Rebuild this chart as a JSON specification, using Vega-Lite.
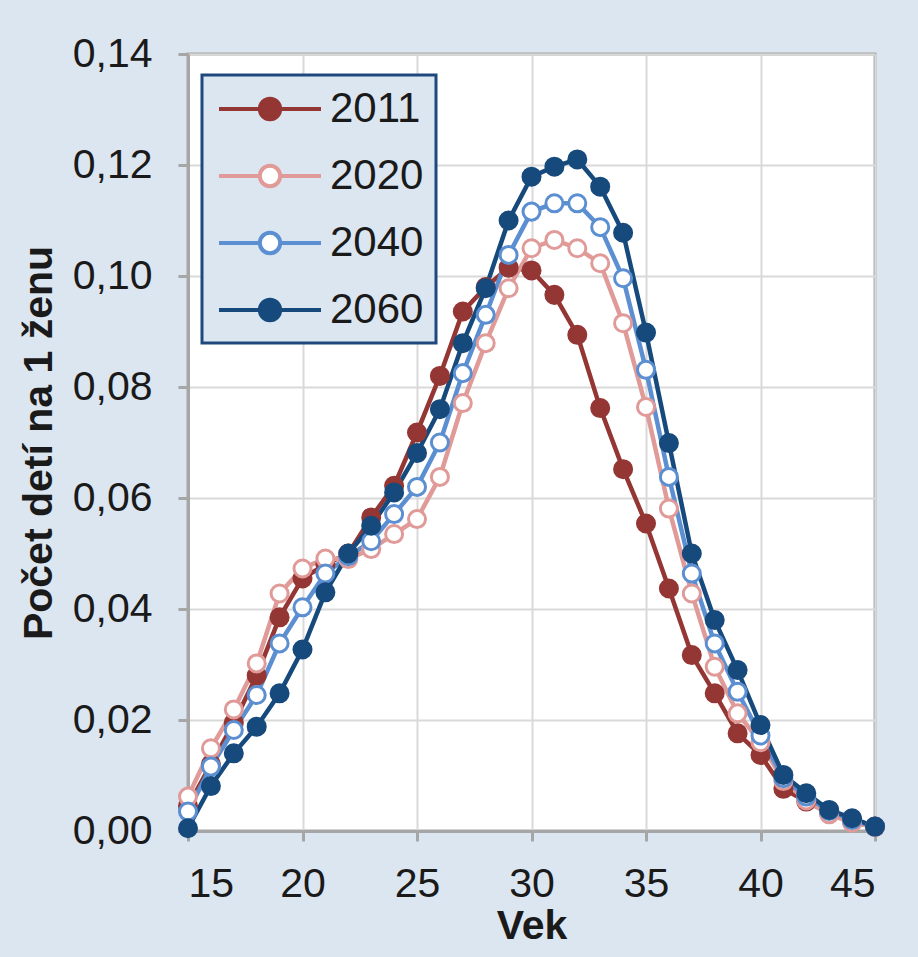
{
  "$schema": "https://vega.github.io/schema/vega-lite/v6.json",
  "width": 687,
  "height": 777,
  "autosize": {"type": "none"},
  "padding": {"left": 188, "top": 54, "right": 43, "bottom": 126},
  "background": "#dce6f1",
  "config": {
    "locale": {"number": {"decimal": ",", "thousands": " ", "grouping": [3], "currency": ["", " €"]}},
    "font": "Liberation Sans",
    "view": {"fill": "#ffffff", "stroke": "#a6a6a6", "strokeWidth": 3},
    "axis": {
      "labelFont": "Liberation Sans",
      "labelFontSize": 41,
      "labelColor": "#1a1a1a",
      "titleFont": "Liberation Sans",
      "titleFontSize": 41,
      "titleFontWeight": "bold",
      "titleColor": "#1a1a1a",
      "domainColor": "#a6a6a6",
      "domainWidth": 3,
      "tickColor": "#a6a6a6",
      "tickWidth": 3,
      "tickSize": 10,
      "gridColor": "#d9d9d9",
      "gridWidth": 2
    },
    "legend": {
      "orient": "none",
      "legendX": 14,
      "legendY": 21,
      "fillColor": "#dce6f1",
      "strokeColor": "#1f497d",
      "strokeWidth": 3,
      "padding": 12,
      "labelFont": "Liberation Sans",
      "labelFontSize": 42,
      "labelColor": "#1a1a1a",
      "labelOffset": 38,
      "symbolOffset": 34,
      "rowPadding": 24,
      "symbolSize": 1600,
      "symbolStrokeWidth": 4
    }
  },
  "data": {
    "values": [
      {"rok": "2011", "vek": 15, "hodnota": 0.0045}, {"rok": "2011", "vek": 16, "hodnota": 0.0120}, {"rok": "2011", "vek": 17, "hodnota": 0.0195}, {"rok": "2011", "vek": 18, "hodnota": 0.0280}, {"rok": "2011", "vek": 19, "hodnota": 0.0385}, {"rok": "2011", "vek": 20, "hodnota": 0.0455}, {"rok": "2011", "vek": 21, "hodnota": 0.0480}, {"rok": "2011", "vek": 22, "hodnota": 0.0500}, {"rok": "2011", "vek": 23, "hodnota": 0.0565}, {"rok": "2011", "vek": 24, "hodnota": 0.0622}, {"rok": "2011", "vek": 25, "hodnota": 0.0718}, {"rok": "2011", "vek": 26, "hodnota": 0.0820}, {"rok": "2011", "vek": 27, "hodnota": 0.0936}, {"rok": "2011", "vek": 28, "hodnota": 0.0980}, {"rok": "2011", "vek": 29, "hodnota": 0.1015}, {"rok": "2011", "vek": 30, "hodnota": 0.1010}, {"rok": "2011", "vek": 31, "hodnota": 0.0966}, {"rok": "2011", "vek": 32, "hodnota": 0.0894}, {"rok": "2011", "vek": 33, "hodnota": 0.0762}, {"rok": "2011", "vek": 34, "hodnota": 0.0652}, {"rok": "2011", "vek": 35, "hodnota": 0.0554}, {"rok": "2011", "vek": 36, "hodnota": 0.0437}, {"rok": "2011", "vek": 37, "hodnota": 0.0317}, {"rok": "2011", "vek": 38, "hodnota": 0.0248}, {"rok": "2011", "vek": 39, "hodnota": 0.0176}, {"rok": "2011", "vek": 40, "hodnota": 0.0137}, {"rok": "2011", "vek": 41, "hodnota": 0.0076}, {"rok": "2011", "vek": 42, "hodnota": 0.0053}, {"rok": "2011", "vek": 43, "hodnota": 0.0032}, {"rok": "2011", "vek": 44, "hodnota": 0.0017}, {"rok": "2011", "vek": 45, "hodnota": 0.0008},
      {"rok": "2020", "vek": 15, "hodnota": 0.0062}, {"rok": "2020", "vek": 16, "hodnota": 0.0149}, {"rok": "2020", "vek": 17, "hodnota": 0.0219}, {"rok": "2020", "vek": 18, "hodnota": 0.0302}, {"rok": "2020", "vek": 19, "hodnota": 0.0428}, {"rok": "2020", "vek": 20, "hodnota": 0.0473}, {"rok": "2020", "vek": 21, "hodnota": 0.0491}, {"rok": "2020", "vek": 22, "hodnota": 0.0490}, {"rok": "2020", "vek": 23, "hodnota": 0.0508}, {"rok": "2020", "vek": 24, "hodnota": 0.0535}, {"rok": "2020", "vek": 25, "hodnota": 0.0562}, {"rok": "2020", "vek": 26, "hodnota": 0.0638}, {"rok": "2020", "vek": 27, "hodnota": 0.0771}, {"rok": "2020", "vek": 28, "hodnota": 0.0879}, {"rok": "2020", "vek": 29, "hodnota": 0.0978}, {"rok": "2020", "vek": 30, "hodnota": 0.1050}, {"rok": "2020", "vek": 31, "hodnota": 0.1065}, {"rok": "2020", "vek": 32, "hodnota": 0.1050}, {"rok": "2020", "vek": 33, "hodnota": 0.1023}, {"rok": "2020", "vek": 34, "hodnota": 0.0915}, {"rok": "2020", "vek": 35, "hodnota": 0.0764}, {"rok": "2020", "vek": 36, "hodnota": 0.0581}, {"rok": "2020", "vek": 37, "hodnota": 0.0428}, {"rok": "2020", "vek": 38, "hodnota": 0.0296}, {"rok": "2020", "vek": 39, "hodnota": 0.0212}, {"rok": "2020", "vek": 40, "hodnota": 0.0160}, {"rok": "2020", "vek": 41, "hodnota": 0.0090}, {"rok": "2020", "vek": 42, "hodnota": 0.0055}, {"rok": "2020", "vek": 43, "hodnota": 0.0030}, {"rok": "2020", "vek": 44, "hodnota": 0.0015}, {"rok": "2020", "vek": 45, "hodnota": 0.0007},
      {"rok": "2040", "vek": 15, "hodnota": 0.0035}, {"rok": "2040", "vek": 16, "hodnota": 0.0116}, {"rok": "2040", "vek": 17, "hodnota": 0.0182}, {"rok": "2040", "vek": 18, "hodnota": 0.0245}, {"rok": "2040", "vek": 19, "hodnota": 0.0338}, {"rok": "2040", "vek": 20, "hodnota": 0.0403}, {"rok": "2040", "vek": 21, "hodnota": 0.0464}, {"rok": "2040", "vek": 22, "hodnota": 0.0495}, {"rok": "2040", "vek": 23, "hodnota": 0.0522}, {"rok": "2040", "vek": 24, "hodnota": 0.0571}, {"rok": "2040", "vek": 25, "hodnota": 0.0620}, {"rok": "2040", "vek": 26, "hodnota": 0.0700}, {"rok": "2040", "vek": 27, "hodnota": 0.0825}, {"rok": "2040", "vek": 28, "hodnota": 0.0930}, {"rok": "2040", "vek": 29, "hodnota": 0.1038}, {"rok": "2040", "vek": 30, "hodnota": 0.1116}, {"rok": "2040", "vek": 31, "hodnota": 0.1131}, {"rok": "2040", "vek": 32, "hodnota": 0.1131}, {"rok": "2040", "vek": 33, "hodnota": 0.1088}, {"rok": "2040", "vek": 34, "hodnota": 0.0996}, {"rok": "2040", "vek": 35, "hodnota": 0.0831}, {"rok": "2040", "vek": 36, "hodnota": 0.0638}, {"rok": "2040", "vek": 37, "hodnota": 0.0464}, {"rok": "2040", "vek": 38, "hodnota": 0.0338}, {"rok": "2040", "vek": 39, "hodnota": 0.0251}, {"rok": "2040", "vek": 40, "hodnota": 0.0172}, {"rok": "2040", "vek": 41, "hodnota": 0.0095}, {"rok": "2040", "vek": 42, "hodnota": 0.0062}, {"rok": "2040", "vek": 43, "hodnota": 0.0036}, {"rok": "2040", "vek": 44, "hodnota": 0.0020}, {"rok": "2040", "vek": 45, "hodnota": 0.0008},
      {"rok": "2060", "vek": 15, "hodnota": 0.0005}, {"rok": "2060", "vek": 16, "hodnota": 0.0081}, {"rok": "2060", "vek": 17, "hodnota": 0.0140}, {"rok": "2060", "vek": 18, "hodnota": 0.0188}, {"rok": "2060", "vek": 19, "hodnota": 0.0248}, {"rok": "2060", "vek": 20, "hodnota": 0.0327}, {"rok": "2060", "vek": 21, "hodnota": 0.0430}, {"rok": "2060", "vek": 22, "hodnota": 0.0500}, {"rok": "2060", "vek": 23, "hodnota": 0.0550}, {"rok": "2060", "vek": 24, "hodnota": 0.0610}, {"rok": "2060", "vek": 25, "hodnota": 0.0681}, {"rok": "2060", "vek": 26, "hodnota": 0.0760}, {"rok": "2060", "vek": 27, "hodnota": 0.0879}, {"rok": "2060", "vek": 28, "hodnota": 0.0978}, {"rok": "2060", "vek": 29, "hodnota": 0.1100}, {"rok": "2060", "vek": 30, "hodnota": 0.1179}, {"rok": "2060", "vek": 31, "hodnota": 0.1197}, {"rok": "2060", "vek": 32, "hodnota": 0.1210}, {"rok": "2060", "vek": 33, "hodnota": 0.1161}, {"rok": "2060", "vek": 34, "hodnota": 0.1078}, {"rok": "2060", "vek": 35, "hodnota": 0.0898}, {"rok": "2060", "vek": 36, "hodnota": 0.0699}, {"rok": "2060", "vek": 37, "hodnota": 0.0500}, {"rok": "2060", "vek": 38, "hodnota": 0.0380}, {"rok": "2060", "vek": 39, "hodnota": 0.0290}, {"rok": "2060", "vek": 40, "hodnota": 0.0191}, {"rok": "2060", "vek": 41, "hodnota": 0.0101}, {"rok": "2060", "vek": 42, "hodnota": 0.0068}, {"rok": "2060", "vek": 43, "hodnota": 0.0038}, {"rok": "2060", "vek": 44, "hodnota": 0.0023}, {"rok": "2060", "vek": 45, "hodnota": 0.0008}
    ]
  },
  "encoding": {
    "x": {
      "field": "vek", "type": "quantitative",
      "scale": {"domain": [15, 45], "nice": false, "zero": false},
      "axis": {"title": "Vek", "values": [15, 20, 25, 30, 35, 40, 45], "labelPadding": 23, "titlePadding": 2}
    },
    "y": {
      "field": "hodnota", "type": "quantitative",
      "scale": {"domain": [0, 0.14], "nice": false},
      "axis": {"title": "Počet detí na 1 ženu", "values": [0, 0.02, 0.04, 0.06, 0.08, 0.1, 0.12, 0.14], "format": ".2f", "labelPadding": 26, "titlePadding": 12}
    }
  },
  "layer": [
    {
      "mark": {"type": "line", "strokeWidth": 4.5, "interpolate": "linear"},
      "encoding": {
        "stroke": {
          "field": "rok", "type": "nominal",
          "scale": {"domain": ["2011", "2020", "2040", "2060"], "range": ["#943634", "#e09a98", "#5b8fd1", "#174a7c"]},
          "legend": {"title": null, "symbolType": "M-2.55,0H-0.51M0.51,0H2.55M0.51,0A0.51,0.51,0,1,1,-0.51,0A0.51,0.51,0,1,1,0.51,0Z"}
        }
      }
    },
    {
      "mark": {"type": "point", "shape": "circle", "size": 290, "strokeWidth": 3, "opacity": 1},
      "encoding": {
        "stroke": {
          "field": "rok", "type": "nominal",
          "scale": {"domain": ["2011", "2020", "2040", "2060"], "range": ["#943634", "#e09a98", "#5b8fd1", "#174a7c"]},
          "legend": {"title": null, "symbolType": "M-2.55,0H-0.51M0.51,0H2.55M0.51,0A0.51,0.51,0,1,1,-0.51,0A0.51,0.51,0,1,1,0.51,0Z"}
        },
        "fill": {
          "field": "rok", "type": "nominal",
          "scale": {"domain": ["2011", "2020", "2040", "2060"], "range": ["#943634", "#ffffff", "#ffffff", "#174a7c"]},
          "legend": {"title": null, "symbolType": "M-2.55,0H-0.51M0.51,0H2.55M0.51,0A0.51,0.51,0,1,1,-0.51,0A0.51,0.51,0,1,1,0.51,0Z"}
        }
      }
    }
  ]
}
